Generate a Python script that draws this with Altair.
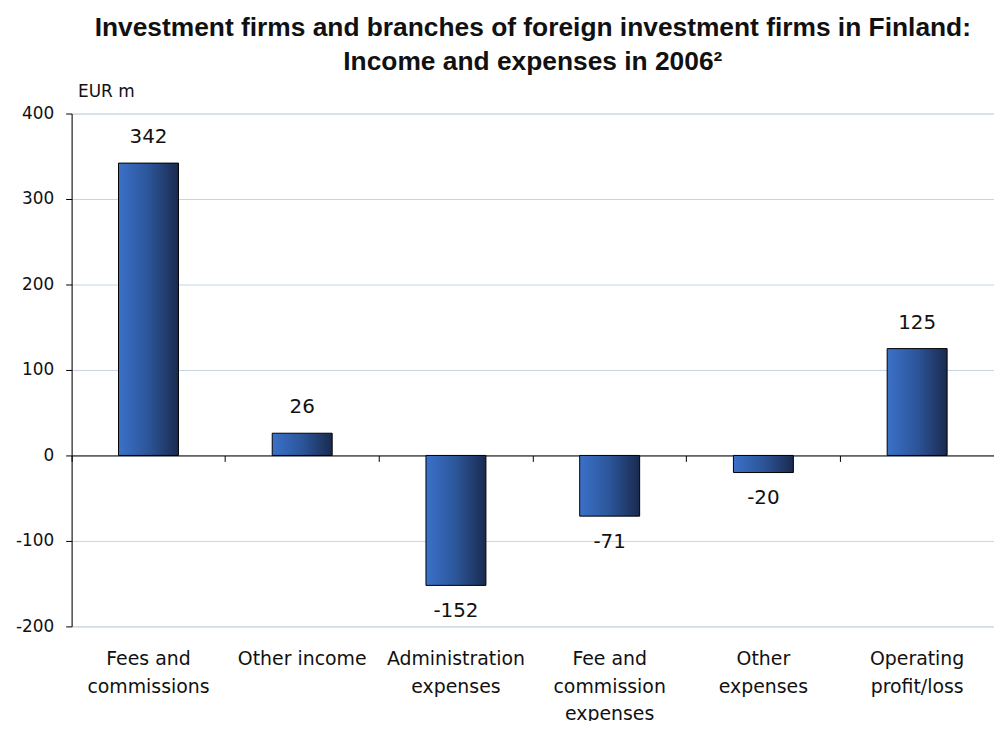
import altair as alt
import pandas as pd

categories = [
    "Fees and\ncommissions",
    "Other income",
    "Administration\nexpenses",
    "Fee and\ncommission\nexpenses",
    "Other\nexpenses",
    "Operating\nprofit/loss",
]
values = [342, 26, -152, -71, -20, 125]
y_ticks = [-200, -100, 0, 100, 200, 300, 400]
title_lines = [
    "Investment firms and branches of foreign investment firms in Finland:",
    "Income and expenses in 2006\u00b2",
]

df = pd.DataFrame({"category": categories, "value": values})

FONT = "DejaVu Sans"
TXT = "#111111"
PAD_INNER = 0.61

xscale = alt.Scale(paddingInner=PAD_INNER, paddingOuter=PAD_INNER / 2)
yscale = alt.Scale(domain=[-200, 400], nice=False)

y_enc = alt.Y(
    "value:Q",
    scale=yscale,
    axis=alt.Axis(
        values=y_ticks,
        title="EUR m",
        titleAngle=0,
        titleAlign="left",
        titleBaseline="middle",
        titleX=6,
        titleY=-22,
        titleFont=FONT,
        titleFontSize=17,
        titleFontWeight="normal",
        titleColor=TXT,
        grid=True,
        gridColor="#c5d3e3",
        gridWidth=1,
        domainColor="#000000",
        tickColor="#000000",
        tickSize=6,
        labelPadding=12,
        labelFont=FONT,
        labelFontSize=17,
        labelColor=TXT,
        labelExpr="datum.value + ''",
    ),
)

grad = alt.Gradient(
    gradient="linear",
    x1=0, x2=1, y1=0, y2=0,
    stops=[
        alt.GradientStop(color="#3b71c9", offset=0),
        alt.GradientStop(color="#2c5599", offset=0.5),
        alt.GradientStop(color="#1a2a4f", offset=1),
    ],
)

bars = alt.Chart(df).mark_bar(color=grad, stroke="#000000", strokeWidth=1).encode(
    x=alt.X(
        "category:N",
        sort=None,
        scale=xscale,
        axis=alt.Axis(
            title=None,
            orient="bottom",
            ticks=False,
            domain=False,
            grid=False,
            labelAngle=0,
            labelFont=FONT,
            labelFontSize=19,
            labelColor=TXT,
            labelPadding=23,
            labelLineHeight=28,
            labelBaseline="top",
            labelExpr="split(datum.label, '\\n')",
        ),
    ),
    y=y_enc,
)

pos = alt.Chart(df).transform_filter(alt.datum.value >= 0).transform_calculate(
    label="datum.value + ''"
).mark_text(
    dy=-26, baseline="middle", font=FONT, fontSize=20, color=TXT
).encode(
    x=alt.X(
        "category:N",
        sort=None,
        scale=xscale,
        axis=alt.Axis(
            title=None,
            orient="bottom",
            offset=-172,
            labels=False,
            ticks=True,
            tickSize=6,
            bandPosition=-(PAD_INNER / 2) / (1 - PAD_INNER),
            domain=True,
            domainColor="#000000",
            tickColor="#000000",
            grid=False,
        ),
    ),
    y=y_enc,
    text=alt.Text("label:N"),
)

neg = alt.Chart(df).transform_filter(alt.datum.value < 0).transform_calculate(
    label="datum.value + ''"
).mark_text(
    dy=26, baseline="middle", font=FONT, fontSize=20, color=TXT
).encode(
    x=alt.X("category:N", sort=None, scale=xscale, axis=None),
    y=y_enc,
    text=alt.Text("label:N"),
)

chart = (
    alt.layer(bars, pos, neg)
    .resolve_axis(x="independent")
    .properties(
        width=928,
        height=516,
        autosize=alt.AutoSizeParams(type="none"),
        padding={"left": 64, "top": 104, "right": 0, "bottom": 93},
        title=alt.TitleParams(
            title_lines,
            font="Liberation Sans",
            fontSize=26.5,
            fontWeight="bold",
            lineHeight=34,
            offset=7,
            color=TXT,
            anchor="middle",
        ),
    )
    .configure_view(stroke=None)
    .configure(background="white")
)

chart.save("out.html", embed_options={"renderer": "svg", "actions": False})
